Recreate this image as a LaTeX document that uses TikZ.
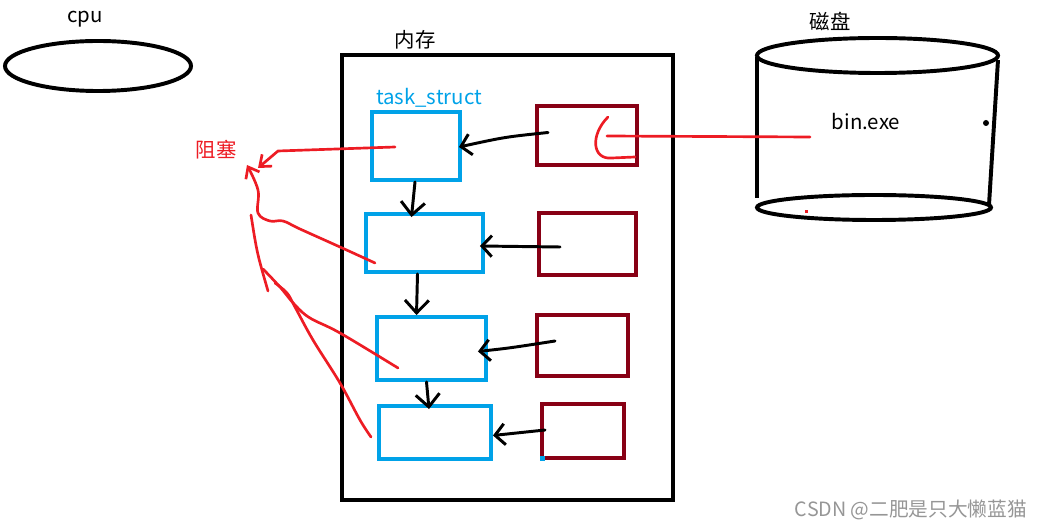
\documentclass[tikz,border=0pt]{standalone}
\usepackage{fontspec}
\setmainfont{Noto Sans CJK SC}
\usepackage{tikz}
\usetikzlibrary{calc, shapes.geometric, arrows.meta}

\definecolor{paintblue}{RGB}{0,162,232}
\definecolor{paintdarkred}{RGB}{136,0,21}
\definecolor{paintred}{RGB}{237,28,36}
\definecolor{markgray}{RGB}{150,150,150}

\tikzset{
	labeltext/.style={font=\fontsize{14.5}{17}\selectfont, inner sep=0pt},
	taskbox/.style={draw=paintblue, line width=2.8pt, inner sep=0pt},
	filebox/.style={draw=paintdarkred, line width=2.8pt, inner sep=0pt},
	pen/.style={line width=2.1pt, line cap=round, line join=round},
	redpen/.style={paintred, line width=1.9pt, line cap=round, line join=round},
	hook/.style={-{Straight Barb[length=7pt, width=15pt]}},
	downhook/.style={-{Straight Barb[length=9pt, width=17pt]}},
	redhook/.style={-{Straight Barb[length=7pt, width=11pt]}},
}

\begin{document}
\begin{tikzpicture}[x=0.025cm, y=-0.025cm]
					\useasboundingbox (0,0) rectangle (1042,530);
					
					% cpu
					\node[labeltext] (cpulabel) at (85,19) {cpu};
					\node[draw, ellipse, line width=2.8pt, minimum width=4.65cm, minimum height=1.25cm] (cpu) at (98,66) {};
					
					% memory
					\node[labeltext] (memlabel) at (415,40) {内存};
					\node[draw, line width=3pt, inner sep=0pt, minimum width=8.275cm, minimum height=11.125cm] (mem) at (507.5,277.5) {};
					\node[labeltext, text=paintblue] (tslabel) at (429,98) {task\_struct};
					
					\node[taskbox, minimum width=2.2cm, minimum height=1.7cm] (t1) at (416,146) {};
					\node[taskbox, minimum width=2.925cm, minimum height=1.45cm] (t2) at (424.5,243) {};
					\node[taskbox, minimum width=2.725cm, minimum height=1.575cm] (t3) at (431.5,348.5) {};
					\node[taskbox, minimum width=2.8cm, minimum height=1.325cm] (t4) at (435,432.5) {};
					
					\node[filebox, minimum width=2.5cm, minimum height=1.475cm] (p1) at (587,135.5) {};
					\node[filebox, minimum width=2.425cm, minimum height=1.55cm] (p2) at (587.5,244) {};
					\node[filebox, minimum width=2.275cm, minimum height=1.525cm] (p3) at (582.5,345.5) {};
					\node[filebox, minimum width=2.05cm, minimum height=1.35cm] (p4) at (583,431) {};
					
					% disk
					\node[labeltext] (disklabel) at (830,21) {磁盘};
					\node[labeltext] (bin) at (866,122) {bin.exe};
					\coordinate (diskin) at (810,137);
					\begin{scope}[line width=2.8pt]
						\draw (877.5,55.5) ellipse [x radius=3.0125cm, y radius=0.4375cm];
						\draw (874,207.5) ellipse [x radius=2.925cm, y radius=0.3125cm];
						\draw (757,57) -- (757,198);
						\draw (998,60) -- (989,205);
					\end{scope}
					\fill (986,123) circle [radius=0.075cm];
					
					% links
					\begin{scope}[pen, hook]
						\draw ($(p1.west)+(13,-3)$) .. controls (505,137) .. ($(t1.east)+(-3,1)$);
						\draw ($(p2.west)+(23,3)$) -- ($(t2.east)+(-5,3)$);
						\draw ($(p3.west)+(20,-4.5)$) .. controls (510,348) .. ($(t3.east)+(-10,3)$);
						\draw ($(p4.west)+(5,-1)$) -- ($(t4.east)+(0,3)$);
					\end{scope}
					\begin{scope}[pen, downhook]
						\draw ($(t1.south)+(-1,0)$) -- ($(t2.north)+(-13,5)$);
						\draw ($(t2.south)+(-7,0)$) -- ($(t3.north)+(-15,0)$);
						\draw ($(t3.south)+(-5,0)$) -- ($(t4.north)+(-6,5)$);
					\end{scope}
					
					% blocked
					\node[labeltext, text=paintred] (blocked) at (216,150) {阻塞};
					\coordinate (qtop) at (247,165);
					\coordinate (q1) at (251,215);
					\coordinate (q2) at (268,291);
					\begin{scope}[redpen]
						\draw[redhook] ($(t1.west)+(25,1)$) -- (278,151) -- ($(qtop)+(11,3)$);
						\draw[redhook] plot[smooth, tension=0.6] coordinates {($(t2.west)+(11,20)$) (340,247) (300,229) (283,221) (270,221) (258,213) (258,190) (qtop)};
						\draw (q1) .. controls (257,253) .. (q2);
						\draw plot[smooth, tension=0.6] coordinates {($(t3.west)+(23,19.5)$) (340,333) (310,318) (295,305) (280,287) (263,269)};
						\draw plot[smooth, tension=0.6] coordinates {($(t4.west)+(-6,4.5)$) (360,420) (340,383) (313,340) (295,307) (287,293) (275,283)};
						\draw (608,117) .. controls (590,135) and (592,160) .. (612,158) -- ($(p1.east)+(-4,21.5)$);
						\draw ($(p1.center)+(20,0.5)$) -- (diskin);
					\end{scope}
					\fill[paintred] (805,210) rectangle (808,213);
					\fill[paintblue] (540,456) rectangle (545,461);
					
					\node[labeltext, font=\fontsize{14}{16}\selectfont, text=markgray] (mark) at (911,510) {CSDN @二肥是只大懒蓝猫};
				\end{tikzpicture}
\end{document}
